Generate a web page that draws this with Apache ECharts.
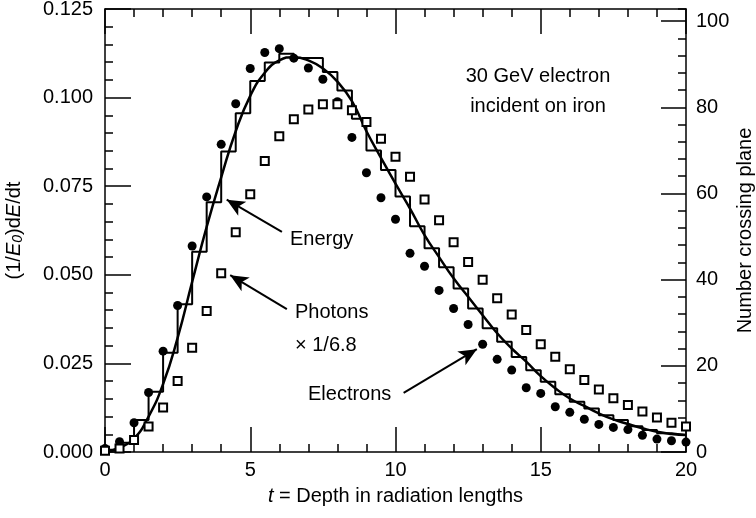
<!DOCTYPE html>
<html>
<head>
<meta charset="utf-8">
<script src="https://cdn.jsdelivr.net/npm/echarts@6/dist/echarts.min.js"></script>
<style>
html,body{margin:0;padding:0;background:#fff;}
#chart{width:756px;height:518px;}
</style>
</head>
<body>
<div id="chart"></div>
<script>
// Depth (radiation lengths) of each measured plane
const depths = [0,0.5,1,1.5,2,2.5,3,3.5,4,4.5,5,5.5,6,6.5,7,7.5,8,8.5,9,9.5,10,
  10.5,11,11.5,12,12.5,13,13.5,14,14.5,15,15.5,16,16.5,17,17.5,18,18.5,19,19.5,20];

// Number of electrons crossing plane (right axis)
const electrons = [0.8,2.4,6.8,13.8,23.4,34.0,47.8,59.2,71.4,80.8,89.0,92.7,93.6,91.4,89.1,86.5,81.3,73.0,64.8,59.0,54.0,
  46.1,43.1,37.5,33.3,29.6,25.0,21.5,19.0,14.9,13.6,10.5,9.2,7.6,6.4,5.7,5.2,3.9,3.0,2.6,2.3];

// Number of photons crossing plane x 1/6.8 (right axis)
const photons = [0.3,0.8,2.8,5.9,10.3,16.5,24.2,32.7,41.5,51.0,59.8,67.5,73.3,77.2,79.5,80.7,80.7,79.3,76.6,72.7,68.5,
  63.9,58.6,53.8,48.7,44.1,40.0,35.7,31.9,28.3,25.0,22.1,19.2,16.7,14.5,12.5,10.9,9.4,8.0,6.8,5.9];

// Energy deposition histogram: bin edges and (1/E0)dE/dt per bin (left axis)
const binEdges = [0,0.5,1,1.5,2,2.5,3,3.5,4,4.5,5,5.5,6,6.5,7,7.5,8,8.5,9,9.5,10,
  10.5,11,11.5,12,12.5,13,13.5,14,14.5,15,15.5,16,16.5,17,17.5,18,18.5,19,19.5,20];
const energyHist = [0.0006,0.0026,0.0090,0.0170,0.0280,0.0417,0.0565,0.0705,0.0848,0.0956,
  0.1047,0.1099,0.1124,0.1112,0.1112,0.1072,0.1020,0.0940,0.0851,0.0796,
  0.0721,0.0637,0.0575,0.0521,0.0461,0.0405,0.0349,0.0311,0.0268,0.0231,
  0.0198,0.0163,0.0142,0.0123,0.0104,0.0090,0.0073,0.0062,0.0053,0.0048];

// Fitted energy-deposition curve (left axis)
const fitT = [0,0.5,1,1.5,2,2.5,3,3.5,4,4.5,5,5.5,6,6.5,7,7.5,8,8.5,9,9.5,10,
  10.5,11,11.5,12,12.5,13,13.5,14,14.5,15,15.5,16,16.5,17,17.5,18,18.5,19,19.5,20];
const fitE = [0.0000,0.0012,0.0038,0.0100,0.0192,0.0322,0.0480,0.0635,0.0775,0.0905,
  0.1005,0.1070,0.1105,0.1114,0.1105,0.1082,0.1045,0.0990,0.0905,0.0830,
  0.0757,0.0687,0.0612,0.0550,0.0490,0.0438,0.0386,0.0335,0.0292,0.0255,
  0.0214,0.0180,0.0151,0.0130,0.0109,0.0092,0.0079,0.0067,0.0057,0.0051,0.0048];

// Tick labels
const xTicks = [0,5,10,15,20];
const yLeftTicks = ['0.000','0.025','0.050','0.075','0.100','0.125'];
const yRightTicks = [0,20,40,60,80,100];
const yRightMax = 102.8;

// Annotation arrows [tail(t,value), head(t,value)] in left-axis units
const arrows = [
  [[6.09,0.0621],[4.19,0.0712]],
  [[6.26,0.0403],[4.31,0.0499]],
  [[10.28,0.0167],[12.80,0.0290]]
];

const FONT = '"Liberation Sans", Arial, Helvetica, sans-serif';
const FS = 20;

const histData = binEdges.slice(0, energyHist.length).map((e,i)=>[e, energyHist[i]]);
histData.push([binEdges[binEdges.length-1], energyHist[energyHist.length-1]]);

const chart = echarts.init(document.getElementById('chart'), null, {renderer:'canvas'});

function majorAxis(extra){
  return Object.assign({
    type:'value',
    axisLine:{show:true, onZero:false, lineStyle:{color:'#000', width:1.5}},
    axisTick:{show:true, inside:true, length:25, lineStyle:{color:'#000', width:1.5}},
    minorTick:{show:false},
    splitLine:{show:false}
  }, extra);
}
function minorAxis(extra){
  return Object.assign({
    type:'value',
    axisLine:{show:false, onZero:false},
    axisLabel:{show:false},
    axisTick:{show:true, inside:true, length:8, lineStyle:{color:'#000', width:1.5}},
    minorTick:{show:false},
    splitLine:{show:false}
  }, extra);
}

chart.setOption({
  animation:false,
  backgroundColor:'#fff',
  textStyle:{fontFamily:FONT},
  grid:{left:105, right:70, top:9, bottom:66, containLabel:false, outerBoundsMode:'none'},
  xAxis:[
    majorAxis({
      min:0, max:20, interval:5, position:'bottom',
      axisLabel:{show:true, color:'#000', fontSize:FS, fontFamily:FONT, margin:8,
        formatter:(v)=> xTicks.indexOf(v)>=0 ? String(v) : ''},
      name:'{i|t} = Depth in radiation lengths',
      nameLocation:'middle', nameGap:34,
      nameTextStyle:{color:'#000', fontSize:FS, fontFamily:FONT,
        rich:{i:{fontStyle:'italic', fontSize:FS, fontFamily:FONT, color:'#000'}}}
    }),
    majorAxis({min:0, max:20, interval:5, position:'top', axisLabel:{show:false}}),
    minorAxis({min:0, max:20, interval:1, position:'bottom'}),
    minorAxis({min:0, max:20, interval:1, position:'top'})
  ],
  yAxis:[
    majorAxis({
      min:0, max:0.125, interval:0.025, position:'left',
      axisTick:{show:true, inside:true, length:26, lineStyle:{color:'#000', width:1.5}},
      axisLabel:{show:true, color:'#000', fontSize:FS, fontFamily:FONT, margin:12,
        formatter:(v)=> yLeftTicks[Math.round(v/0.025)]},
      name:'(1/{i|E}{s|0})d{i|E}/dt',
      nameLocation:'middle', nameRotate:90, nameGap:80,
      nameTextStyle:{color:'#000', fontSize:FS, fontFamily:FONT,
        rich:{
          i:{fontStyle:'italic', fontSize:FS, fontFamily:FONT, color:'#000'},
          s:{fontStyle:'italic', fontSize:14, fontFamily:FONT, color:'#000', padding:[8,0,0,0]}
        }}
    }),
    majorAxis({
      min:0, max:yRightMax, interval:20, position:'right',
      axisLabel:{show:true, color:'#000', fontSize:FS, fontFamily:FONT, margin:10,
        showMaxLabel:false,
        formatter:(v)=> yRightTicks.indexOf(v)>=0 ? String(v) : ''},
      name:'Number crossing plane',
      nameLocation:'middle', nameRotate:90, nameGap:49, nameMoveOverlap:false,
      nameTextStyle:{color:'#000', fontSize:FS, fontFamily:FONT}
    }),
    minorAxis({min:0, max:0.125, interval:0.005, position:'left'}),
    minorAxis({min:0, max:yRightMax, interval:4, position:'right'})
  ],
  series:[
    {
      name:'Energy histogram', type:'line', step:'end',
      xAxisIndex:0, yAxisIndex:0,
      data:histData, showSymbol:false, symbol:'none',
      lineStyle:{color:'#000', width:2}, z:2
    },
    {
      name:'Energy fit', type:'line', smooth:true,
      xAxisIndex:0, yAxisIndex:0,
      data:fitT.map((t,i)=>[t, fitE[i]]), showSymbol:false, symbol:'none',
      lineStyle:{color:'#000', width:2.5}, z:3,
      markLine:{
        silent:true, animation:false,
        symbol:['none','arrow'], symbolSize:[12,18],
        lineStyle:{color:'#000', width:2, type:'solid'},
        label:{show:false},
        data: arrows.map(a=>[{coord:a[0]},{coord:a[1]}])
      }
    },
    {
      name:'Electrons', type:'scatter',
      xAxisIndex:0, yAxisIndex:1,
      data:depths.map((t,i)=>[t, electrons[i]]),
      symbol:'circle', symbolSize:9,
      itemStyle:{color:'#000', opacity:1}, z:4
    },
    {
      name:'Photons', type:'scatter',
      xAxisIndex:0, yAxisIndex:1,
      data:depths.map((t,i)=>[t, photons[i]]),
      symbol:'rect', symbolSize:8,
      itemStyle:{color:'#fff', borderColor:'#000', borderWidth:2, opacity:1}, z:5
    }
  ],
  graphic:[
    {type:'text', x:538, y:76, style:{text:'30 GeV electron', font:FS+'px '+FONT, fill:'#000', textAlign:'center', textVerticalAlign:'middle'}},
    {type:'text', x:538, y:106, style:{text:'incident on iron', font:FS+'px '+FONT, fill:'#000', textAlign:'center', textVerticalAlign:'middle'}},
    {type:'text', x:290, y:239, style:{text:'Energy', font:FS+'px '+FONT, fill:'#000', textAlign:'left', textVerticalAlign:'middle'}},
    {type:'text', x:295, y:312, style:{text:'Photons', font:FS+'px '+FONT, fill:'#000', textAlign:'left', textVerticalAlign:'middle'}},
    {type:'text', x:295, y:345, style:{text:'\u00d7 1/6.8', font:FS+'px '+FONT, fill:'#000', textAlign:'left', textVerticalAlign:'middle'}},
    {type:'text', x:308, y:394, style:{text:'Electrons', font:FS+'px '+FONT, fill:'#000', textAlign:'left', textVerticalAlign:'middle'}}
  ]
});
</script>
</body>
</html>
